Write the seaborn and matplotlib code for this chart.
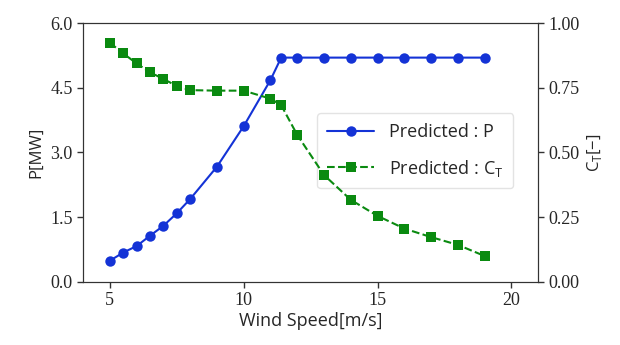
import numpy as np
import pandas as pd
import matplotlib
matplotlib.use("Agg")
import matplotlib.pyplot as plt
import seaborn as sns

# wind speed [m/s]
wind_speed = [5, 5.5, 6, 6.5, 7, 7.5, 8, 9, 10, 11, 11.4, 12, 13, 14, 15, 16, 17, 18, 19]
# predicted power [MW]
power = [0.49, 0.68, 0.83, 1.07, 1.30, 1.59, 1.92, 2.67, 3.61, 4.68, 5.20,
         5.20, 5.20, 5.20, 5.20, 5.20, 5.20, 5.20, 5.20]
# predicted thrust coefficient [-]
ct = [0.924, 0.883, 0.844, 0.810, 0.784, 0.757, 0.741, 0.739, 0.739, 0.708, 0.683,
      0.568, 0.413, 0.317, 0.255, 0.206, 0.173, 0.143, 0.100]

df = pd.DataFrame({"ws": wind_speed, "P": power, "CT": ct})

sns.set_style("white")
plt.rcParams['font.family'] = ['Open Sans', 'DejaVu Sans']

fig, ax = plt.subplots(figsize=(6.2, 3.45), dpi=100)
ax2 = ax.twinx()

sns.lineplot(data=df, x="ws", y="P", ax=ax, color="#1433d6", marker="o",
             markersize=7.5, markeredgewidth=0, linewidth=1.5, label="Predicted : P", legend=False)
sns.lineplot(data=df, x="ws", y="CT", ax=ax2, color="#0a8a10", marker="s",
             markersize=6.5, markeredgewidth=0, linewidth=1.5, linestyle="--",
             label=r"Predicted : C$_\mathregular{T}$", legend=False)

ax.set_xlim(4.0, 21.0)
ax.set_ylim(0, 6)
ax.set_yticks([0, 1.5, 3.0, 4.5, 6.0])
ax2.set_ylim(0, 1)
ax2.set_yticks([0, 0.25, 0.5, 0.75, 1.0])
ax.set_xticks([5, 10, 15, 20])

for a in (ax, ax2):
    for lbl in a.get_xticklabels() + a.get_yticklabels():
        lbl.set_family("Liberation Serif")
        lbl.set_fontsize(13)
    a.tick_params(length=4, width=1, direction="out", color="#333333")
    for s in a.spines.values():
        s.set_color("#333333")
ax.tick_params(left=True, bottom=True)
ax2.tick_params(right=True)

ax.set_xlabel("Wind Speed[m/s]", fontsize=13, labelpad=2)
ax.set_ylabel("P[MW]", fontsize=12)
ax2.set_ylabel(r"C$_\mathregular{T}$[−]", fontsize=12)

# legend sits on the left axes, so the C_T line is drawn over it
h1, l1 = ax.get_legend_handles_labels()
h2, l2 = ax2.get_legend_handles_labels()
ax.legend(h1 + h2, l1 + l2, loc="center right", bbox_to_anchor=(0.965, 0.506),
          fontsize=13, frameon=True, edgecolor="#dddddd", handlelength=2.6,
          labelspacing=0.9, borderpad=0.55)

fig.subplots_adjust(left=0.134, right=0.868, top=0.933, bottom=0.183)
fig.savefig("out.png", dpi=100)
